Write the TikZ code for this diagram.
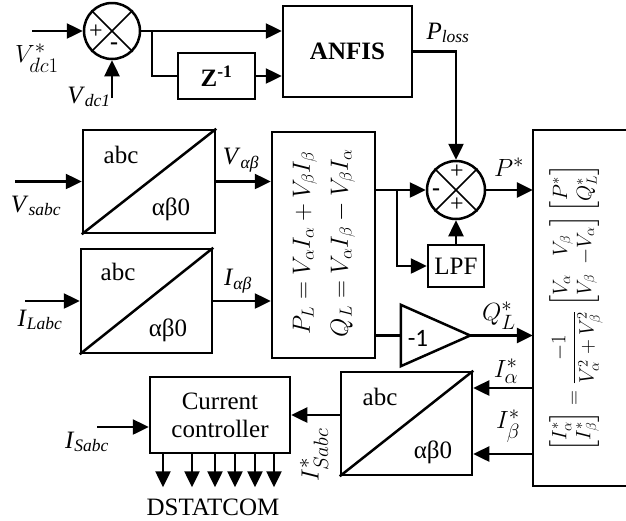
\documentclass[tikz,border=0pt]{standalone}
\usepackage{amsmath}
\usepackage{fontspec}
\setmainfont{Liberation Serif}
\newfontfamily\calfont{Carlito}
\usetikzlibrary{arrows.meta,calc}
\tikzset{
blk/.style={draw,line width=2.5pt,inner sep=0pt,align=center,font=\fontsize{25}{28}\selectfont},
sumj/.style={draw,circle,line width=2.5pt,minimum size=56pt,inner sep=0pt},
flow/.style={-{Triangle[length=16pt,width=15pt]},line width=2.5pt},
wire/.style={line width=2.5pt},
thinwire/.style={line width=1.6pt},
lbl/.style={font=\fontsize{25}{28}\selectfont,inner sep=0pt},
mlbl/.style={font=\fontsize{28}{30}\selectfont,inner sep=0pt},
sgn/.style={font=\fontsize{24}{24}\selectfont,inner sep=0pt}}

\begin{document}
\begin{tikzpicture}[x=1pt,y=-1pt]
\useasboundingbox (0,0) rectangle (626,520);
\node[sumj] (sum1) at (112,31) {};
\draw[thinwire] (sum1.north west)--(sum1.south east) (sum1.north east)--(sum1.south west);
\node[sgn] (s1p) at (96,32) {+};
\node[sgn] (s1m) at (114,46) {\textbf{-}};
\coordinate (vrefin) at (32,31);
\coordinate (vdcin) at (112,98);
\node[mlbl] (vref) at (37,58) {$V_{dc1}^{*}$};
\node[lbl] (vdc) at (89,97) {\textit{V}\textsubscript{\textit{dc1}}};
\node[blk,minimum width=129pt,minimum height=91pt] (anfis) at (347.5,51.5) {\textbf{ANFIS}};
\node[blk,minimum width=77pt,minimum height=46pt] (zinv) at (216.5,76) {\textbf{Z}\textsuperscript{\textbf{-1}}};
\coordinate (br1) at (152,31);
\draw[flow] (vrefin)--(sum1.west);
\draw[flow] (vdcin)--(sum1.south);
\draw[wire] (sum1.east)--(br1);
\draw[flow] (br1)--(anfis.west |- br1);
\draw[wire] (br1) |- (zinv.west);
\draw[flow] (zinv.east)--(anfis.west |- zinv.east);
\node[sumj,minimum size=58pt] (sum2) at (456,190) {};
\draw[thinwire] (sum2.north west)--(sum2.south east) (sum2.north east)--(sum2.south west);
\node[sgn] (s2t) at (457,172) {+};
\node[sgn] (s2l) at (436,192) {\textbf{-}};
\node[sgn] (s2b) at (457,205) {+};
\draw[flow] (anfis.east) -| (sum2.north);
\node[lbl] (ploss) at (448,33) {\textit{P}\textsubscript{\textit{loss}}};
\node[blk,minimum width=132pt,minimum height=103pt] (abc1) at (149,181.5) {};
\draw[wire] (abc1.south west)--(abc1.north east);
\node[lbl] (abc1a) at (121,155) {abc};
\node[lbl] (abc1b) at (171,209) {αβ0};
\node[blk,minimum width=131pt,minimum height=104pt] (abc2) at (146.5,301) {};
\draw[wire] (abc2.south west)--(abc2.north east);
\node[lbl] (abc2a) at (118,272) {abc};
\node[lbl] (abc2b) at (168,330) {αβ0};
\coordinate (vsin) at (15,181.5);
\coordinate (ilin) at (25,301);
\draw[flow] (vsin)--(abc1.west);
\draw[flow] (ilin)--(abc2.west);
\node[lbl] (vs) at (36,206) {\textit{V}\textsubscript{\textit{sabc}}};
\node[lbl] (il) at (40,320) {\textit{I}\textsubscript{\textit{Labc}}};
\node[blk,minimum width=103pt,minimum height=226pt] (pl) at (323.5,245) {};
\node[rotate=90,align=center,inner sep=0pt,font=\fontsize{24}{38}\selectfont] (pleq) at (324,243) {$P_L=V_\alpha I_\alpha+V_\beta I_\beta$\\$Q_L=V_\alpha I_\beta-V_\beta I_\alpha$};
\draw[flow] (abc1.east)--(pl.west |- abc1.east);
\draw[flow] (abc2.east)--(pl.west |- abc2.east);
\node[lbl] (vab) at (241,160) {\textit{V}\textsubscript{\textit{αβ}}};
\node[lbl] (iab) at (238,281) {\textit{I}\textsubscript{\textit{αβ}}};
\node[blk,minimum width=56pt,minimum height=42pt] (lpf) at (456,266) {LPF};
\coordinate (br2) at (397,190);
\draw[wire] (pl.east |- br2)--(br2);
\draw[flow] (br2)--(sum2.west);
\draw[flow] (br2) |- (lpf.west);
\draw[flow] (lpf.north)--(sum2.south);
\node[inner sep=0pt,minimum width=69pt,minimum height=61pt] (gain) at (435.5,335.5) {};
\draw[wire,line join=miter] (gain.north west)--(gain.east)--(gain.south west)--cycle;
\node[font=\calfont\fontsize{25}{28}\selectfont,inner sep=0pt] (gaint) at (418,338) {-1};
\draw[wire] (pl.east |- gain.west)--(gain.west);
\node[inner sep=0pt,minimum width=93pt,minimum height=356pt] (rblk) at (579.5,308) {};
\draw[wire,line join=miter] (rblk.north east)--(rblk.north west)--(rblk.south west)--(rblk.south east);
\node[rotate=90,inner sep=0pt,font=\fontsize{20.5}{24}\selectfont] (rmat) at (576,308) {$\begin{bmatrix}I_\alpha^*\\ I_\beta^*\end{bmatrix}=\dfrac{-1}{V_\alpha^2+V_\beta^2}\begin{bmatrix}V_\alpha & V_\beta\\ V_\beta & -V_\alpha\end{bmatrix}\begin{bmatrix}P^*\\ Q_L^*\end{bmatrix}$};
\draw[flow] (sum2.east)--(rblk.west |- sum2.east);
\draw[flow] (gain.east)--(rblk.west |- gain.east);
\node[mlbl] (pstar) at (509,167) {$P^*$};
\node[mlbl] (qstar) at (499,316) {$Q_L^*$};
\node[blk,minimum width=131pt,minimum height=103pt] (abc3) at (406.5,423.5) {};
\draw[wire] (abc3.south west)--(abc3.north east);
\node[lbl] (abc3a) at (380,397) {abc};
\node[lbl] (abc3b) at (433,452) {αβ0};
\coordinate (iaout) at (533,388);
\coordinate (ibout) at (533,454);
\draw[flow] (iaout)--(abc3.east |- iaout);
\draw[flow] (ibout)--(abc3.east |- ibout);
\node[mlbl] (iastar) at (506,371) {$I_\alpha^*$};
\node[mlbl] (ibstar) at (508,426) {$I_\beta^*$};
\node[blk,minimum width=140pt,minimum height=76pt] (cc) at (220,415) {Current\\controller};
\draw[flow] (abc3.west |- cc.east)--(cc.east);
\node[mlbl,rotate=90] (isref) at (314,455) {$I_{Sabc}^*$};
\coordinate (isin) at (97,427);
\draw[flow] (isin)--(cc.west |- isin);
\node[lbl] (is) at (87,442) {\textit{I}\textsubscript{\textit{Sabc}}};
\foreach \xx in {163,192,215,235,255,274}
  \draw[flow] (\xx,0 |- cc.south)--++(0,33);
\node[lbl] (ds) at (213,507) {DSTATCOM};
\end{tikzpicture}
\end{document}
